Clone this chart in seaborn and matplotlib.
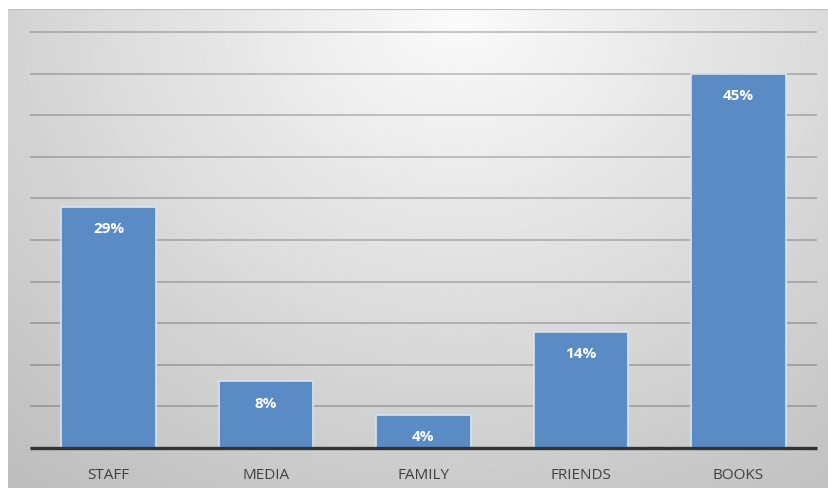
import numpy as np
import pandas as pd
import seaborn as sns
import matplotlib
matplotlib.use("Agg")
import matplotlib.pyplot as plt

# data
sources = ["STAFF", "MEDIA", "FAMILY", "FRIENDS", "BOOKS"]
shares = [29, 8, 4, 14, 45]
labels = ["29%", "8%", "4%", "14%", "45%"]
grid_steps = np.arange(5, 51, 5)

df = pd.DataFrame({"source": sources, "share": shares})

sns.set_theme(style="white")
plt.rcParams['font.family'] = ['Open Sans', 'DejaVu Sans']

fig = plt.figure(figsize=(8.29, 4.89), dpi=100)

# gray radial background panel, lightest at top centre
bg = fig.add_axes([8 / 829, 0, 1 - 8 / 829, 1 - 10 / 489])
yy, xx = np.mgrid[0:1:300j, 0:1:500j]
dist = np.sqrt(((xx - 0.55) / 0.7) ** 2 + (yy / 1.05) ** 2)
shade = 0.985 - 0.2 * np.clip(dist, 0, 1.2)
bg.imshow(shade, cmap="gray", vmin=0, vmax=1, origin="upper",
          aspect="auto", extent=[0, 1, 0, 1])
bg.axhline(1, color="#c0c0c0", lw=1.5)
bg.set_axis_off()

ax = fig.add_axes([30 / 829, 1 - 449 / 489, 787 / 829, 416 / 489])
ax.patch.set_alpha(0)
sns.barplot(data=df, x="source", y="share", color="#5b8bc5", saturation=1,
            width=0.6, edgecolor="#d6e4f3", linewidth=1.2, ax=ax, zorder=3)

n = len(sources)
ax.set_xlim(-0.5, n - 0.5)
ax.set_ylim(0, 50)
ax.hlines(grid_steps, -0.5, n - 0.5, color="black", alpha=0.22, lw=1.3,
          zorder=1, clip_on=False)
ax.hlines(0, -0.5, n - 0.5, color="#333333", lw=2.4, zorder=4, clip_on=False)
ax.tick_params(axis="y", left=False, labelleft=False)
ax.tick_params(axis="x", bottom=False, labelsize=11, labelcolor="#404040", pad=8)
ax.set_xlabel("")
ax.set_ylabel("")
sns.despine(ax=ax, left=True, bottom=True)

for i, (v, t) in enumerate(zip(shares, labels)):
    ax.text(i, v - 2.6, t, ha="center", va="center", color="white",
            fontsize=11, fontweight="bold", zorder=5)

fig.savefig("out.png", dpi=100)
